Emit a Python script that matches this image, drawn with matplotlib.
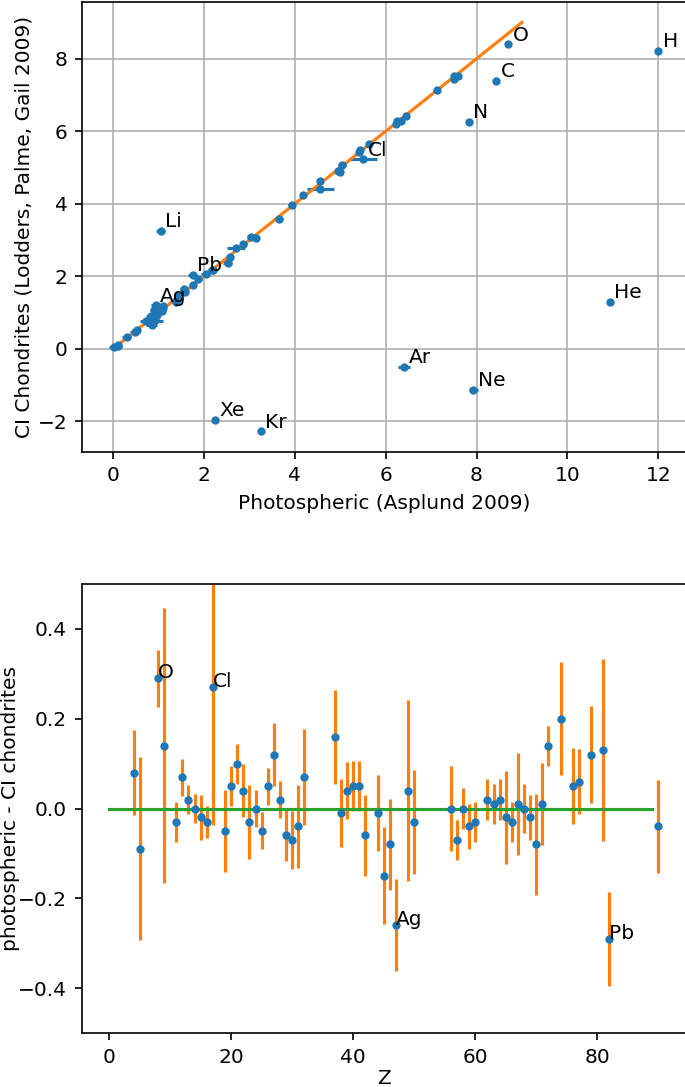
import numpy as np
import matplotlib
matplotlib.use("Agg")
import matplotlib.pyplot as plt

# Element data: Z, symbol, photospheric (Asplund 2009) +- err, CI meteoritic (Lodders 2009) +- err
Z = [1, 2, 3, 4, 5, 6, 7, 8, 9, 10, 11, 12, 13, 14, 15, 16, 17, 18, 19, 20,
     21, 22, 23, 24, 25, 26, 27, 28, 29, 30, 31, 32, 36, 37, 38, 39, 40, 41, 42,
     44, 45, 46, 47, 49, 50, 54, 56, 57, 58, 59, 60, 62, 63, 64, 65, 66, 67, 68,
     69, 70, 71, 72, 74, 76, 77, 79, 81, 82, 90]
elem = ["H", "He", "Li", "Be", "B", "C", "N", "O", "F", "Ne", "Na", "Mg", "Al", "Si",
        "P", "S", "Cl", "Ar", "K", "Ca", "Sc", "Ti", "V", "Cr", "Mn", "Fe", "Co", "Ni",
        "Cu", "Zn", "Ga", "Ge", "Kr", "Rb", "Sr", "Y", "Zr", "Nb", "Mo", "Ru", "Rh",
        "Pd", "Ag", "In", "Sn", "Xe", "Ba", "La", "Ce", "Pr", "Nd", "Sm", "Eu", "Gd",
        "Tb", "Dy", "Ho", "Er", "Tm", "Yb", "Lu", "Hf", "W", "Os", "Ir", "Au", "Tl",
        "Pb", "Th"]
photo = [12.00, 10.93, 1.05, 1.38, 2.70, 8.43, 7.83, 8.69, 4.56, 7.93, 6.24, 7.60,
         6.45, 7.51, 5.41, 7.12, 5.50, 6.40, 5.03, 6.34, 3.15, 4.95, 3.93, 5.64, 5.43,
         7.50, 4.99, 6.22, 4.19, 4.56, 3.04, 3.65, 3.25, 2.52, 2.87, 2.21, 2.58, 1.46,
         1.88, 1.75, 0.91, 1.57, 0.94, 0.80, 2.04, 2.24, 2.18, 1.10, 1.58, 0.72, 1.42,
         0.96, 0.52, 1.07, 0.30, 1.10, 0.48, 0.92, 0.10, 0.84, 0.10, 0.85, 0.85, 1.40,
         1.38, 0.92, 0.90, 1.75, 0.02]
photo_err = [0.00, 0.01, 0.10, 0.09, 0.20, 0.05, 0.05, 0.05, 0.30, 0.10, 0.04, 0.04,
             0.03, 0.03, 0.03, 0.03, 0.30, 0.13, 0.09, 0.04, 0.04, 0.05, 0.08, 0.04, 0.04,
             0.04, 0.07, 0.04, 0.04, 0.05, 0.09, 0.10, 0.06, 0.10, 0.07, 0.05, 0.04, 0.04,
             0.08, 0.08, 0.10, 0.10, 0.10, 0.20, 0.10, 0.06, 0.09, 0.04, 0.04, 0.04, 0.04,
             0.04, 0.04, 0.04, 0.10, 0.04, 0.11, 0.05, 0.04, 0.11, 0.09, 0.04, 0.12, 0.08,
             0.07, 0.10, 0.20, 0.10, 0.10]
meteor = [8.22, 1.29, 3.26, 1.30, 2.79, 7.39, 6.26, 8.40, 4.42, -1.12, 6.27, 7.53,
          6.43, 7.51, 5.43, 7.15, 5.23, -0.50, 5.08, 6.29, 3.05, 4.91, 3.96, 5.64, 5.48,
          7.45, 4.87, 6.20, 4.25, 4.63, 3.08, 3.58, -2.27, 2.36, 2.88, 2.17, 2.53, 1.41,
          1.94, 1.76, 1.06, 1.65, 1.20, 0.76, 2.07, -1.95, 2.18, 1.17, 1.58, 0.76, 1.45,
          0.94, 0.51, 1.05, 0.32, 1.13, 0.47, 0.92, 0.12, 0.92, 0.09, 0.71, 0.65, 1.35,
          1.32, 0.80, 0.77, 2.04, 0.06]
meteor_err = [0.04, 0.00, 0.05, 0.03, 0.04, 0.04, 0.06, 0.04, 0.06, 0.00, 0.02, 0.01,
              0.01, 0.01, 0.04, 0.02, 0.06, 0.00, 0.02, 0.02, 0.02, 0.03, 0.02, 0.01, 0.01,
              0.01, 0.01, 0.01, 0.04, 0.04, 0.02, 0.04, 0.00, 0.03, 0.03, 0.04, 0.04, 0.04,
              0.04, 0.03, 0.04, 0.02, 0.02, 0.03, 0.06, 0.00, 0.03, 0.02, 0.02, 0.03, 0.02,
              0.02, 0.02, 0.02, 0.03, 0.02, 0.03, 0.02, 0.03, 0.02, 0.02, 0.02, 0.04, 0.03,
              0.02, 0.04, 0.03, 0.03, 0.03]

top_labels = ["H", "He", "Li", "C", "N", "O", "Ne", "Ar", "Kr", "Xe", "Cl", "Ag", "Pb"]
bottom_labels = ["O", "Cl", "Ag", "Pb"]

Z = np.array(Z)
photo = np.array(photo)
photo_err = np.array(photo_err)
meteor = np.array(meteor)
meteor_err = np.array(meteor_err)

plt.rcParams['font.size'] = 9.7

W, H = 685, 1087
DPI = 150
fig = plt.figure(figsize=(W / DPI, H / DPI), dpi=DPI)

# ---- top panel ----
L1 = 82
ax1 = fig.add_axes([L1 / W, 1 - 451.7 / H, 1 - L1 / W + 0.001, (451.7 - 2) / H])
ax1.errorbar(photo, meteor, xerr=photo_err, fmt='.', color='C0')
ax1.plot([0, 9], [0, 9], color='C1')
for e in top_labels:
    i = elem.index(e)
    ax1.text(photo[i] + 0.1, meteor[i] + 0.1, e)
ax1.grid(True)
ax1.set_xlabel("Photospheric (Asplund 2009)")
ax1.set_ylabel("CI Chondrites (Lodders, Palme, Gail 2009)")
ax1.yaxis.set_label_coords((34 - L1) / (W - L1), 0.5)

# ---- bottom panel ----
diff = photo - meteor
derr = np.sqrt(photo_err ** 2 + meteor_err ** 2)
sel = (np.abs(diff) < 0.5) & (Z > 2)
L2 = 81.7
ax2 = fig.add_axes([L2 / W, 1 - 1033 / H, 1 - L2 / W + 0.001, (1033 - 584) / H])
ax2.errorbar(Z[sel], diff[sel], yerr=derr[sel], fmt='.', color='C0', ecolor='C1')
ax2.plot([0, 89], [0, 0], color='C2')
for e in bottom_labels:
    i = elem.index(e)
    ax2.text(Z[i], diff[i], e)
ax2.set_ylim(-0.5, 0.5)
ax2.set_xlabel("Z", labelpad=1.0)
ax2.set_ylabel("photospheric - CI chondrites")
ax2.yaxis.set_label_coords((20 - L2) / (W - L2), 0.5)

fig.savefig("out.png", dpi=DPI)
